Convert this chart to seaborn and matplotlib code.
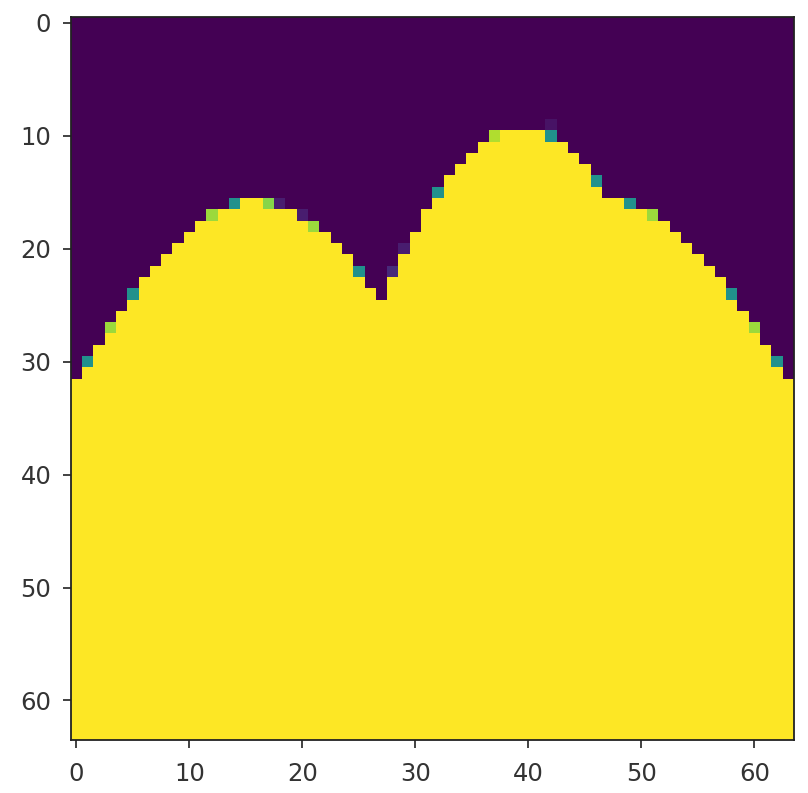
import numpy as np
import matplotlib
matplotlib.use("Agg")
import matplotlib.pyplot as plt
import seaborn as sns

# Grid size
n_rows = 64
n_cols = 64

# First fully "yellow" (value 1) row in each column
first_yellow_row = [32, 31, 29, 28, 26, 25, 23, 22, 21, 20, 19, 18, 18, 17, 17, 16,
                    16, 17, 17, 17, 18, 19, 19, 20, 21, 23, 24, 25, 23, 21, 19, 17,
                    16, 14, 13, 12, 11, 11, 10, 10, 10, 10, 11, 11, 12, 13, 15, 16,
                    16, 17, 17, 18, 18, 19, 20, 21, 22, 23, 25, 26, 28, 29, 31, 32]

# Edge cells with intermediate values (anti-aliased boundary)
partial_cols = [1, 3, 5, 12, 14, 17, 18, 20, 21, 25, 28, 29, 32, 37, 42, 42, 46, 49, 51, 58, 60, 62]
partial_rows = [30, 27, 24, 17, 16, 16, 16, 17, 18, 22, 22, 20, 15, 10, 10, 9, 14, 16, 17, 24, 27, 30]
partial_vals = [0.5, 0.85, 0.5, 0.85, 0.5, 0.82, 0.08, 0.08, 0.85, 0.5, 0.12, 0.08, 0.5, 0.88, 0.5, 0.05,
                0.5, 0.5, 0.85, 0.5, 0.85, 0.5]

tick_vals = [0, 10, 20, 30, 40, 50, 60]

# Build the matrix
mat = np.zeros((n_rows, n_cols))
for c, r0 in enumerate(first_yellow_row):
    mat[r0:, c] = 1.0
for c, r, v in zip(partial_cols, partial_rows, partial_vals):
    mat[r, c] = v

fig = plt.figure(figsize=(8.08, 7.93), dpi=100)
ax = fig.add_axes([70.7 / 808, (793 - 740.0) / 793, 723.3 / 808, 722.7 / 793])
sns.heatmap(mat, ax=ax, cmap="viridis", vmin=0, vmax=1, cbar=False,
            xticklabels=False, yticklabels=False)

ax.set_xticks(np.array(tick_vals) + 0.5)
ax.set_xticklabels([str(t) for t in tick_vals], rotation=0)
ax.set_yticks(np.array(tick_vals) + 0.5)
ax.set_yticklabels([str(t) for t in tick_vals], rotation=0)
ax.tick_params(axis="both", which="major", length=6, width=1.3,
               labelsize=17.5, colors="#333333", bottom=True, left=True)
ax.tick_params(axis="x", pad=9.5)
ax.tick_params(axis="y", pad=8.0)
for s in ax.spines.values():
    s.set_visible(True)
    s.set_linewidth(1.3)
    s.set_color("#222222")

fig.savefig("out.png", dpi=100)
